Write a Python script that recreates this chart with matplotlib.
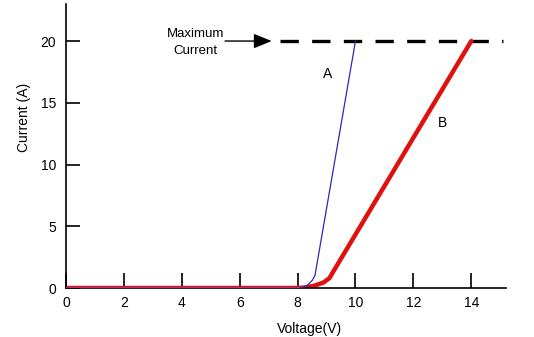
import matplotlib
matplotlib.use("Agg")
import matplotlib.pyplot as plt

plt.rcParams['font.family'] = ['Liberation Sans', 'DejaVu Sans']

# Data
a_voltage = [0, 8.0, 8.2, 8.35, 8.5, 8.6, 10.0]
a_current = [0, 0, 0.05, 0.25, 0.6, 1.0, 20.0]
b_voltage = [0, 8.0, 8.3, 8.6, 8.9, 9.1, 9.2, 14.0]
b_current = [0, 0, 0.05, 0.2, 0.45, 0.8, 1.2, 20.0]
max_current = 20
dash_start, dash_end = 7.4, 15.1
x_ticks = [0, 2, 4, 6, 8, 10, 12, 14]
y_ticks = [0, 5, 10, 15, 20]

fig = plt.figure(figsize=(5.34, 3.37), dpi=100)
ax = fig.add_axes([66/534, 1-288/337, (506-66)/534, (288-4)/337])

ax.plot(b_voltage, b_current, color='#e0100e', lw=3.2, solid_capstyle='round', zorder=2)
ax.plot(a_voltage, a_current, color='#2a2ab0', lw=0.9, zorder=3)
ax.plot([0, 8.0], [0, 0], color='#c0307a', lw=2.0, zorder=4)

ax.plot([dash_start, dash_end], [max_current, max_current], color='black', lw=2.4,
        dashes=(5.5, 4.0), zorder=1)

ax.annotate('', xy=(7.2, max_current), xytext=(5.4, max_current),
            arrowprops=dict(arrowstyle='-|>,head_length=1.1,head_width=0.45', color='black', lw=1.0))
ax.text(4.47, 19.88, 'Maximum\nCurrent', ha='center', va='center', fontsize=9.5, linespacing=1.55)
ax.text(9.04, 17.3, 'A', ha='center', va='center', fontsize=10)
ax.text(12.99, 13.35, 'B', ha='center', va='center', fontsize=10)

ax.set_xlim(0, 15.2)
ax.set_ylim(0, 23.0)
ax.set_xticks(x_ticks)
ax.set_yticks(y_ticks)
ax.spines['top'].set_visible(False)
ax.spines['right'].set_visible(False)
for s in ['left', 'bottom']:
    ax.spines[s].set_linewidth(1.2)
ax.tick_params(axis='x', direction='in', length=11, width=1.2, labelsize=10, pad=6)
ax.tick_params(axis='y', direction='in', length=10, width=1.2, labelsize=10, pad=7)
ax.set_xlabel('Voltage(V)', fontsize=10)
ax.xaxis.set_label_coords(0.553, -0.118)
ax.set_ylabel('Current (A)', fontsize=10)
ax.yaxis.set_label_coords(-0.08, (288-117)/284)

fig.savefig('out.png', dpi=100)
